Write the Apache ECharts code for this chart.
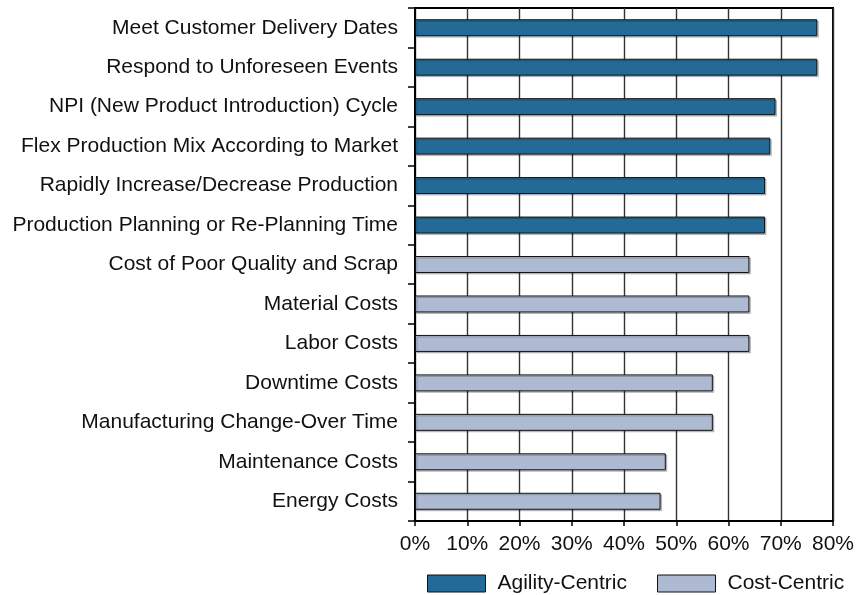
<!DOCTYPE html>
<html>
<head>
<meta charset="utf-8">
<script src="https://cdn.jsdelivr.net/npm/echarts@6/dist/echarts.min.js"></script>
<style>html,body{margin:0;padding:0;background:#fff}#chart{width:860px;height:595px}</style>
</head>
<body>
<div id="chart"></div>
<script>
// Categories, top to bottom
const categories = [
  'Meet Customer Delivery Dates',
  'Respond to Unforeseen Events',
  'NPI (New Product Introduction) Cycle',
  'Flex Production Mix According to Market',
  'Rapidly Increase/Decrease Production',
  'Production Planning or Re-Planning Time',
  'Cost of Poor Quality and Scrap',
  'Material Costs',
  'Labor Costs',
  'Downtime Costs',
  'Manufacturing Change-Over Time',
  'Maintenance Costs',
  'Energy Costs'
];
// Percent of respondents; null where the item belongs to the other group
const agilityCentric = [77, 77, 69, 68, 67, 67, null, null, null, null, null, null, null];
const costCentric = [null, null, null, null, null, null, 64, 64, 64, 57, 57, 48, 47];
const xTicks = [0, 10, 20, 30, 40, 50, 60, 70, 80];

const font = 'Liberation Sans, Arial, sans-serif';
const barStyle = (color) => ({
  color: color,
  borderColor: '#111',
  borderWidth: 1,
  shadowColor: 'rgba(0,0,0,0.22)',
  shadowOffsetX: 1.5,
  shadowOffsetY: 1.5,
  shadowBlur: 0
});

const chart = echarts.init(document.getElementById('chart'));
chart.setOption({
  animation: false,
  grid: {
    left: 415, right: 27, top: 8, bottom: 74,
    show: true, borderColor: '#000', borderWidth: 2
  },
  legend: {
    left: 427, top: 573, padding: 0,
    itemWidth: 58, itemHeight: 17, itemGap: 30,
    textStyle: { fontFamily: font, fontSize: 21, color: '#111', padding: [0, 0, 0, 7] },
    data: [
      { name: 'Agility-Centric', icon: 'rect', itemStyle: { borderColor: '#111', borderWidth: 1 } },
      { name: 'Cost-Centric', icon: 'rect', itemStyle: { borderColor: '#111', borderWidth: 1 } }
    ]
  },
  xAxis: {
    type: 'value',
    min: xTicks[0], max: xTicks[xTicks.length - 1], interval: 10,
    axisLine: { show: true, lineStyle: { color: '#000', width: 2 } },
    axisTick: { show: true, length: 5, lineStyle: { color: '#000', width: 1.5 } },
    axisLabel: {
      formatter: v => v + '%', margin: 13,
      fontFamily: font, fontSize: 21, color: '#111'
    },
    splitLine: { show: true, lineStyle: { color: '#333', width: 1.4 } }
  },
  yAxis: {
    type: 'category',
    data: categories,
    inverse: true,
    axisLine: { show: true, lineStyle: { color: '#000', width: 2 } },
    axisTick: { show: true, length: 7, lineStyle: { color: '#000', width: 1.5 } },
    axisLabel: { margin: 17, fontFamily: font, fontSize: 21, color: '#111' },
    splitLine: { show: false }
  },
  series: [
    {
      name: 'Agility-Centric', type: 'bar', stack: 'all',
      data: agilityCentric, barCategoryGap: '57%',
      itemStyle: barStyle('#236B96')
    },
    {
      name: 'Cost-Centric', type: 'bar', stack: 'all',
      data: costCentric, barCategoryGap: '57%',
      itemStyle: barStyle('#ADBAD2')
    }
  ]
});
</script>
</body>
</html>
